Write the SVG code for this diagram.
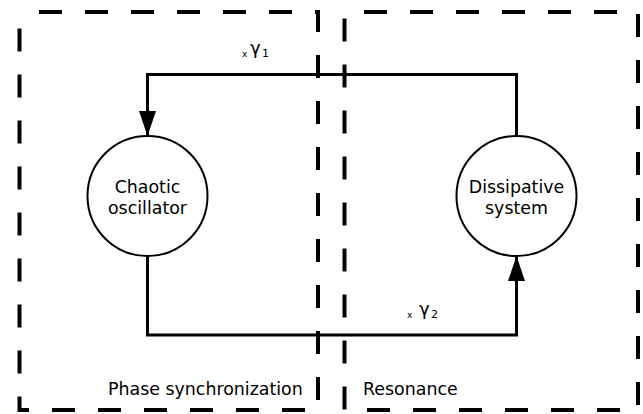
<svg xmlns="http://www.w3.org/2000/svg" width="643" height="414" viewBox="0 0 643 414">
  <defs>
    <marker id="arrow" markerUnits="userSpaceOnUse" markerWidth="25" markerHeight="17" refX="25" refY="8.5" orient="auto">
      <path d="M0,0 L25,8.5 L0,17 Z" fill="#000"/>
    </marker>
    <style>
      .region { fill: none; stroke: #000; stroke-width: 4; stroke-dasharray: 23 23; }
      .node { fill: #fff; stroke: #000; stroke-width: 2; }
      .link { fill: none; stroke: #000; stroke-width: 3; marker-end: url(#arrow); }
      text { font-family: "DejaVu Sans", "Liberation Sans", sans-serif; fill: #000; }
      .label { font-size: 17.4px; text-anchor: middle; }
      .caption { font-size: 17.4px; }
      .coef { font-size: 18px; }
    </style>
  </defs>

  <!-- dashed regions -->
  <g id="regions">
    <rect class="region" x="19.5" y="12" width="298.5" height="398" stroke-dashoffset="26.5"/>
    <rect class="region" x="344.5" y="12" width="293.5" height="398" stroke-dashoffset="26.5"/>
    <text class="caption" x="108" y="395">Phase synchronization</text>
    <text class="caption" x="363" y="395">Resonance</text>
  </g>

  <!-- coupling connectors -->
  <g id="connectors">
    <path class="link" d="M516.5,136 V74.5 H147.5 V136"/>
    <path class="link" d="M147.5,256 V335 H516.5 V256"/>
    <text x="242" y="57"><tspan font-size="9">x</tspan><tspan class="coef" x="250" y="54">γ</tspan><tspan font-size="11" x="262" y="57">1</tspan></text>
    <text x="407" y="318"><tspan font-size="9">x</tspan><tspan class="coef" x="419" y="315">γ</tspan><tspan font-size="11" x="431" y="318">2</tspan></text>
  </g>

  <g id="chaotic-oscillator">
    <circle class="node" cx="147.5" cy="196" r="60"/>
    <text class="label" x="147.5" y="193">Chaotic</text>
    <text class="label" x="147.5" y="214">oscillator</text>
  </g>

  <g id="dissipative-system">
    <circle class="node" cx="516.5" cy="196" r="60"/>
    <text class="label" x="516.5" y="193">Dissipative</text>
    <text class="label" x="516.5" y="214">system</text>
  </g>
</svg>
